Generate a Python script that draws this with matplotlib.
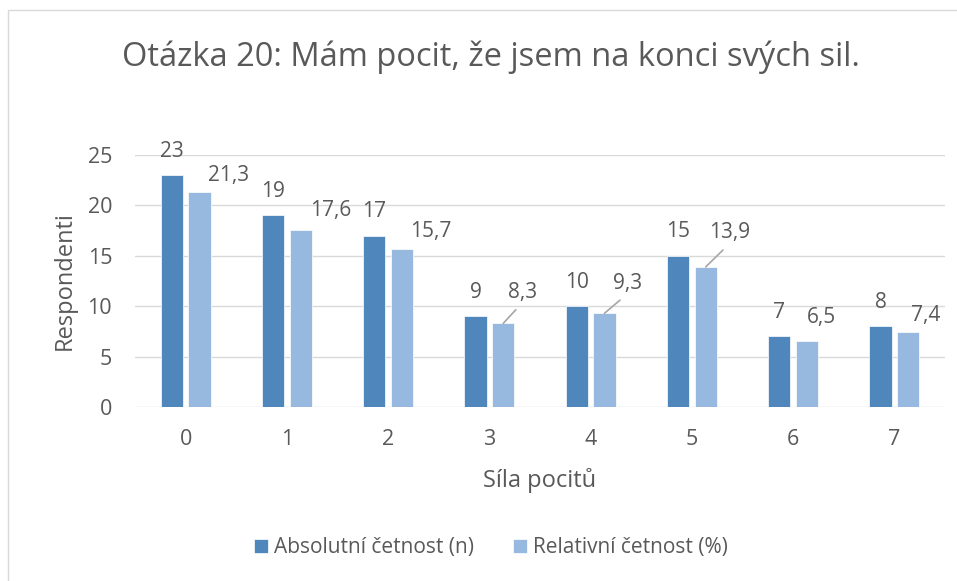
import matplotlib.pyplot as plt
import matplotlib.patches as mpatches
import numpy as np

# data
categories = ["0", "1", "2", "3", "4", "5", "6", "7"]
absolute = [23, 19, 17, 9, 10, 15, 7, 8]
relative = [21.3, 17.6, 15.7, 8.3, 9.3, 13.9, 6.5, 7.4]

# label offsets for the relative series (pixels), leader line where Excel drew one
rel_offsets = [(29, 17), (30, 19), (29, 17), (19, 31), (23, 30), (24, 34), (15, 24), (17, 17)]
rel_leader = [False, False, False, True, True, True, False, False]

dark = "#4F87BD"
light = "#98B9DF"
txt = "#595959"
font = "Open Sans"

W, H = 957, 581
fig = plt.figure(figsize=(W / 100, H / 100), dpi=100)
ax = fig.add_axes([135 / W, 1 - 407 / H, 810 / W, 252 / H])

x = np.arange(len(categories))
bw = 0.22
ax.bar(x - 0.137, absolute, bw, color=dark, edgecolor="white", linewidth=0.5, zorder=3,
       label="Absolutní četnost (n)")
ax.bar(x + 0.137, relative, bw, color=light, edgecolor="white", linewidth=0.5, zorder=3,
       label="Relativní četnost (%)")

ax.set_xlim(-0.5, len(categories) - 0.5)
ax.set_ylim(0, 25)
ax.set_yticks(range(0, 26, 5))
ax.set_xticks(x)
ax.set_xticklabels(categories)
ax.grid(axis="y", color="#D9D9D9", linewidth=1.0, zorder=0)
for s in ax.spines.values():
    s.set_visible(False)
ax.tick_params(length=0, labelsize=15.5, labelcolor=txt)
ax.tick_params(axis="y", pad=16.5)
ax.tick_params(axis="x", pad=16)
for lab in ax.get_xticklabels() + ax.get_yticklabels():
    lab.set_fontfamily(font)

# data labels
for i, v in enumerate(absolute):
    ax.annotate(str(v), (x[i] - 0.137, v), xytext=(0, 24), textcoords="offset pixels",
                ha="center", va="center", fontsize=15, color=txt, family=font)
for i, v in enumerate(relative):
    dx, dy = rel_offsets[i]
    lab = f"{v:.1f}".replace(".", ",")
    if rel_leader[i]:
        ax.annotate(lab, (x[i] + 0.137, v), xytext=(dx, dy), textcoords="offset pixels",
                    ha="center", va="center", fontsize=15, color=txt, family=font,
                    arrowprops=dict(arrowstyle="-", color="#A6A6A6", lw=1.2,
                                    shrinkA=4, shrinkB=0, relpos=(0.5, 0.0)))
    else:
        ax.annotate(lab, (x[i] + 0.137, v), xytext=(dx, dy), textcoords="offset pixels",
                    ha="center", va="center", fontsize=15, color=txt, family=font)

ax.set_xlabel("Síla pocitů", fontsize=17, color=txt, family=font, labelpad=13)
ax.set_ylabel("Respondenti", fontsize=17, color=txt, family=font, labelpad=8)

fig.text(491 / W, 1 - 57 / H, "Otázka 20: Mám pocit, že jsem na konci svých sil.",
         ha="center", va="center", fontsize=23.5, color=txt, family=font)

fig.legend(loc="center", bbox_to_anchor=(491 / W, 1 - 548 / H), ncol=2, frameon=False,
           prop={"family": font, "size": 15}, labelcolor=txt, handlelength=0.65,
           handleheight=0.65, handletextpad=0.3, columnspacing=1.9)

# chart border (only left/top visible in the crop)
fig.patches.append(mpatches.Rectangle((8 / W, -0.1), 1.2, 1 - 10 / H + 0.1,
                                      transform=fig.transFigure, fill=False,
                                      edgecolor="#D9D9D9", linewidth=1.0))

fig.savefig("out.png", dpi=100)
